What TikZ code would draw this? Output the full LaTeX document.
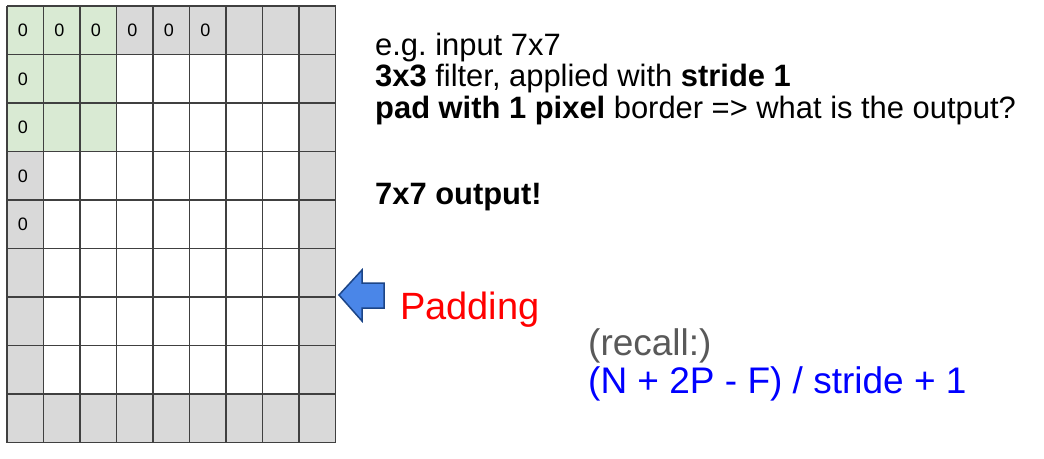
\documentclass[tikz,border=0pt]{standalone}
\usepackage{fontspec}
\setmainfont{Liberation Sans}
\frenchspacing
\definecolor{cellgreen}{HTML}{D9EAD3}
\definecolor{cellgray}{HTML}{D9D9D9}
\definecolor{gridline}{HTML}{404040}
\definecolor{arrowfill}{HTML}{4A86E8}
\definecolor{arrowedge}{HTML}{1C4587}
\definecolor{recallgray}{HTML}{595959}
\tikzset{
  zero/.style={font=\fontsize{18}{18}\selectfont, inner sep=0pt},
  maintext/.style={anchor=base west, inner sep=0pt, font=\fontsize{30.9}{32}\selectfont},
  bigtext/.style={anchor=base west, inner sep=0pt, font=\fontsize{37}{40}\selectfont},
}
\begin{document}
\begin{tikzpicture}[x=1pt,y=-1pt]
\useasboundingbox (0,0) rectangle (1044,458);
\fill[white] (0,0) rectangle (1044,458);
% grid geometry
\def\gx{7}\def\gy{6}\def\cw{36.5}\def\ch{48.5}
% gray padding border
\foreach \i in {0,...,8}{
  \fill[cellgray] ({\gx+\i*\cw},{\gy}) rectangle ++(\cw,\ch);
  \fill[cellgray] ({\gx+\i*\cw},{\gy+8*\ch}) rectangle ++(\cw,\ch);
  \fill[cellgray] ({\gx},{\gy+\i*\ch}) rectangle ++(\cw,\ch);
  \fill[cellgray] ({\gx+8*\cw},{\gy+\i*\ch}) rectangle ++(\cw,\ch);
}
% green filter
\fill[cellgreen] (\gx,\gy) rectangle ++({3*\cw},{3*\ch});
% grid lines
\foreach \i in {0,...,9}{
  \draw[gridline, line width=1.3pt] ({\gx+\i*\cw},{\gy}) -- ({\gx+\i*\cw},{\gy+9*\ch});
  \draw[gridline, line width=1.3pt] ({\gx},{\gy+\i*\ch}) -- ({\gx+9*\cw},{\gy+\i*\ch});
}
% zeros
\foreach \i in {0,...,5}{
  \node[zero] (zr\i) at ({\gx+\i*\cw+16},{\gy+24.5}) {0};
}
\foreach \j in {1,...,4}{
  \node[zero] (zc\j) at ({\gx+16},{\gy+\j*\ch+24.5}) {0};
}
% arrow
\filldraw[fill=arrowfill, draw=arrowedge, line width=1.5pt, line join=miter]
  (339,295) -- (362,270) -- (362,283) -- (384,283) -- (384,308) -- (362,308) -- (362,321) -- cycle;
% texts
\node[maintext] (l1) at (375,55) {e.g. input 7x7};
\node[maintext] (l2) at (375,86.5) {\textbf{3x3} filter, applied with \textbf{stride 1}};
\node[maintext] (l3) at (375,118) {\textbf{pad with 1 pixel} border => what is the output?};
\node[maintext] (l4) at (375,204.5) {\textbf{7x7 output!}};
\node[bigtext, text=red, font=\fontsize{38}{40}\selectfont] (pad) at (400,319) {Padding};
\node[bigtext, text=recallgray] (recall) at (588,355) {(recall:)};
\node[bigtext, text=blue] (formula) at (588,393) {(N + 2P - F) / stride + 1};
\end{tikzpicture}
\end{document}
